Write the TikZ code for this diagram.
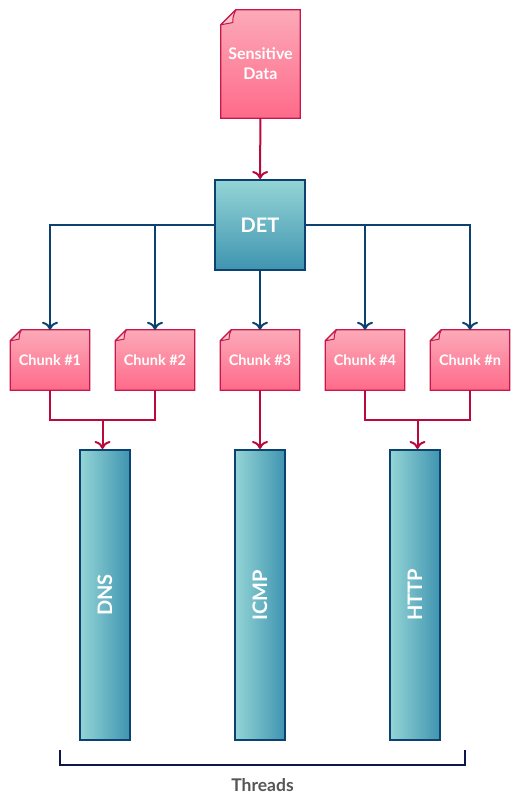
\documentclass[tikz,border=0pt]{standalone}
\usepackage{fontspec}
\setmainfont{Lato}
\usetikzlibrary{arrows.meta,backgrounds}
\definecolor{pinklite}{HTML}{FCAAB8}
\definecolor{pinkdark}{HTML}{FE6A8A}
\definecolor{pinkline}{HTML}{C8174A}
\definecolor{redline}{HTML}{B80A3C}
\definecolor{teallite}{HTML}{94D5D6}
\definecolor{tealdark}{HTML}{3F94B0}
\definecolor{blueline}{HTML}{0C4272}
\definecolor{navy}{HTML}{0D1848}
\definecolor{threadgray}{HTML}{555555}
\begin{document}
\begin{tikzpicture}[x=1pt, y=-1pt,
    doc/.style={minimum width=79, minimum height=60, inner sep=0, text=white, font=\bfseries\fontsize{14.5}{17}\selectfont},
    docfill/.style={top color=pinklite, bottom color=pinkdark, draw=pinkline, line width=1.3},
    flap/.style={fill=pinklite!70, draw=pinkline, line width=1, line join=round},
    detbox/.style={draw=blueline, line width=2, top color=teallite, bottom color=tealdark, minimum width=90, minimum height=90, text=white, font=\bfseries\fontsize{20}{22}\selectfont},
    bar/.style={draw=blueline, line width=2, left color=teallite, right color=tealdark, minimum width=50, minimum height=290, inner sep=0, text=white, font=\bfseries\fontsize{20}{22}\selectfont},
    redarr/.style={draw=redline, line width=2, -{Computer Modern Rightarrow[length=8pt,width=16pt]}},
    bluearr/.style={draw=blueline, line width=2, -{Computer Modern Rightarrow[length=8pt,width=16pt]}},
    redlink/.style={draw=redline, line width=2}]
  \useasboundingbox (0,0) rectangle (523,804);

  \node[doc, minimum height=108, font=\bfseries\fontsize{16}{20}\selectfont, align=center] (sd) at (260.5,64) {Sensitive\\Data};
  \node[detbox] (det) at (260,225) {DET};

  \node[doc] (c1) at (50,360) {Chunk \#1};
  \node[doc] (c2) at (155,360) {Chunk \#2};
  \node[doc] (c3) at (260,360) {Chunk \#3};
  \node[doc] (c4) at (365,360) {Chunk \#4};
  \node[doc] (cn) at (470,360) {Chunk \#n};

  \begin{scope}[on background layer]
    \foreach \n/\f in {sd/15, c1/11, c2/11, c3/11, c4/11, cn/11}{
      \shade[docfill] ([yshift=-\f]\n.north west) -- ([xshift=\f]\n.north west) -- (\n.north east) -- (\n.south east) -- (\n.south west) -- cycle;
      \draw[flap] ([yshift=-\f]\n.north west) -- ([xshift=\f]\n.north west) .. controls ([xshift=0.8*\f,yshift=-0.5*\f]\n.north west) .. ([xshift=0.8*\f,yshift=-0.85*\f]\n.north west) -- cycle;
    }
  \end{scope}

  \node[bar] (dns) at (105,595) {\rotatebox{90}{DNS}};
  \node[bar] (icmp) at (260,595) {\rotatebox{90}{ICMP}};
  \node[bar] (http) at (415,595) {\rotatebox{90}{HTTP}};

  \draw[redarr] (sd) -- (det);
  \draw[bluearr] (det.west) -| (c1);
  \draw[bluearr] (det.west -| c2) -- (c2);
  \draw[bluearr] (det) -- (c3);
  \draw[bluearr] (det.east -| c4) -- (c4);
  \draw[bluearr] (det.east) -| (cn);

  \coordinate (j1) at (102.5,420);
  \coordinate (j2) at (417.5,420);
  \draw[redlink] (c1) |- (j1) -| (c2);
  \draw[redlink] (c4) |- (j2) -| (cn);
  \draw[redarr] (j1) -- (j1 |- dns.north);
  \draw[redarr] (c3) -- (icmp);
  \draw[redarr] (j2) -- (j2 |- http.north);

  \draw[navy, line width=2] (60,750) -- (60,765) -- (465,765) -- (465,750);
  \node[text=threadgray, font=\bfseries\fontsize{17.5}{20}\selectfont] (thr) at (262.5,785) {Threads};
\end{tikzpicture}
\end{document}
